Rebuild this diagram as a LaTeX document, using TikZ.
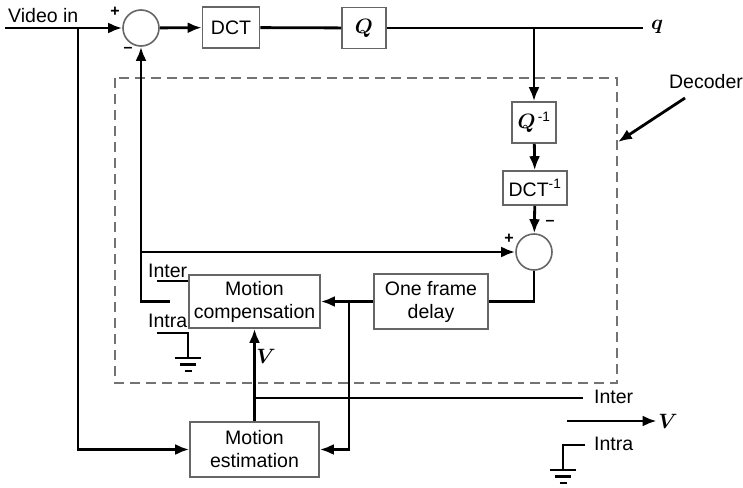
\documentclass[tikz,border=0pt]{standalone}
\usepackage{fontspec}
\setmainfont{Liberation Sans}
\usepackage{bm}
\usetikzlibrary{arrows.meta,positioning}

\tikzset{
  gnd/.pic={
    \draw[line width=2.4pt] (-13,0) -- (13,0);
    \draw[line width=2.4pt] (-8,6.5) -- (8,6.5);
    \draw[line width=2.4pt] (-3.5,13) -- (3.5,13);
  }
}

\begin{document}
\begin{tikzpicture}[
  x=1pt, y=-1pt,
  >={Latex[length=14pt,width=11pt]},
  font=\fontsize{19.5}{23}\selectfont,
  blk/.style={draw=black!60, line width=1.6pt, fill=white, align=center, inner sep=0pt},
  sum/.style={circle, draw=black!60, line width=1.6pt, fill=white, minimum size=36pt, inner sep=0pt},
  sig/.style={line width=2.8pt},
  sgn/.style={font=\fontsize{16}{16}\selectfont\bfseries, inner sep=0pt},
  lbl/.style={anchor=base west, inner sep=0pt},
  var/.style={font=\fontsize{20}{20}\selectfont, inner sep=1.5pt},
  decbox/.style={draw=black!55, line width=1.6pt, dash pattern=on 10pt off 6pt}
]
  \useasboundingbox (0,0) rectangle (743,487);

  % --- decoder boundary ---
  \draw[decbox] (115,78) rectangle (617,383);

  % --- blocks ---
  \node[sum] (sum1) at (141,28) {};
  \node[blk, minimum width=57pt, minimum height=41pt] (dct) at (231,27.5) {DCT};
  \node[blk, minimum width=44pt, minimum height=41pt] (qbox) at (364,28) {$\bm{Q}$};
  \node[blk, minimum width=44pt, minimum height=41pt] (qinv) at (534,122.5)
       {$\bm{Q}$\textsuperscript{\,-1}};
  \node[blk, minimum width=64pt, minimum height=34pt] (dctinv) at (535,188)
       {DCT\textsuperscript{-1}};
  \node[sum] (sum2) at (534,252) {};
  \node[blk, minimum width=114pt, minimum height=55pt] (delay) at (431,301.5)
       {One frame\\delay};
  \node[blk, minimum width=131pt, minimum height=53pt] (mc) at (254.5,301.5)
       {Motion\\compensation};
  \node[blk, minimum width=129pt, minimum height=55pt] (me) at (254.5,449.5)
       {Motion\\estimation};

  % --- signs at the summers ---
  \node[sgn] (p1) at (115,12) {+};
  \node[sgn] (m1) at (128,50) {\textendash};
  \node[sgn] (p2) at (509,239) {+};
  \node[sgn] (m2) at (550,223) {\textendash};

  % --- texts ---
  \node[lbl] (vinlbl) at (8,23) {Video in};
  \node[var] (qout) at (657,27) {$\bm{q}$};
  \node (declbl) at (706,82) {Decoder};
  \node[lbl] (inter1) at (148,277) {Inter};
  \node[lbl] (intra1) at (148,327) {Intra};
  \node[var] (vlbl) at (266,356) {$\bm{V}$};
  \node[lbl] (inter2) at (594,403) {Inter};
  \node[lbl] (intra2) at (594,450) {Intra};
  \node[var] (vout) at (668,421) {$\bm{V}$};

  % --- junctions and free ends ---
  \coordinate (vin) at (5,28);
  \coordinate (vtapin) at (78,28);
  \coordinate (tap) at (534,28);
  \coordinate (qend) at (643,28);
  \coordinate (fb) at (141,252);
  \coordinate (swc) at (170,301.5);
  \coordinate (intc) at (157,281);
  \coordinate (intrc) at (157,333);
  \coordinate (gnd1) at (188,358);
  \coordinate (tap2) at (349,301.5);
  \coordinate (vtap) at (254.5,398);
  \coordinate (interend) at (583,398);
  \coordinate (vfrom) at (567,421);
  \coordinate (intraend) at (585,445);
  \coordinate (gnd2) at (563,470);
  \coordinate (decfrom) at (685,98);
  \coordinate (decpt) at (618,142);

  % --- forward path ---
  \draw[sig,->] (vin) -- (sum1);
  \draw[sig,->] (sum1) -- (dct);
  \draw[sig] (dct) -- (qbox);
  \draw[sig] (qbox) -- (qend);
  \draw[sig,->] (tap) -- (qinv);
  \draw[sig,->] (qinv) -- (dctinv);
  \draw[sig,->] (dctinv) -- (sum2);

  % --- loop ---
  \draw[sig] (sum2) |- (delay);
  \draw[sig,->] (delay) -- (mc);
  \draw[sig,->] (tap2) |- (me);
  \draw[sig,->] (swc) -| (sum1);
  \draw[sig,->] (fb) -- (sum2);
  \draw[sig,->] (vtapin) |- (me);
  \draw[sig,->] (me) -- (mc);

  % --- switch contacts ---
  \draw[sig] (intc) -- (intc -| mc.west);
  \draw[sig] (intrc) -| (gnd1);
  \pic at (gnd1) {gnd};

  % --- outputs ---
  \draw[sig] (vtap) -- (interend);
  \draw[sig,->] (vfrom) -- (vout);
  \draw[sig] (intraend) -| (gnd2);
  \pic at (gnd2) {gnd};
  \draw[sig,->] (decfrom) -- (decpt);
\end{tikzpicture}
\end{document}
